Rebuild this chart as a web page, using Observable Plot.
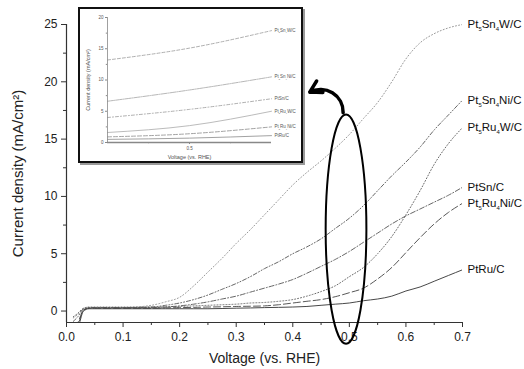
<!DOCTYPE html>
<html>
<head>
<meta charset="utf-8">
<script src="https://cdn.jsdelivr.net/npm/d3@7"></script>
<script src="https://cdn.jsdelivr.net/npm/@observablehq/plot@0.6"></script>
<style>
  html, body { margin: 0; padding: 0; background: #fff; }
  #wrap { position: relative; width: 524px; height: 369px; overflow: hidden; font-family: Arial, "Liberation Sans", sans-serif; }
  #wrap svg, #wrap svg text { font-family: Arial, "Liberation Sans", sans-serif !important; }
  #main { position: absolute; left: 0; top: 0; }
  #inset { position: absolute; left: 78px; top: 7px; width: 221px; height: 152px; border: 2px solid #111; box-shadow: 2px 2px 0 #9a9a9a; background: #fff; }
  #inset svg { display: block; }
</style>
</head>
<body>
<div id="wrap"><div id="main"></div><div id="inset"></div></div>
<script>
// ---------- main chart data ----------
const VOLTAGE = [0.012, 0.02, 0.03, 0.04, 0.05, 0.1, 0.15, 0.175, 0.2, 0.225, 0.25, 0.275, 0.3, 0.325, 0.35, 0.375, 0.4, 0.425, 0.45, 0.475, 0.5, 0.525, 0.55, 0.575, 0.6, 0.625, 0.65, 0.675, 0.7];
const PT5SN4W = [-0.6,-0.3,0.2,0.3,0.3,0.3,0.5,0.8,1.2,2.2,3.4,4.6,5.9,7.1,8.4,9.7,11.0,12.1,13.1,14.2,15.4,16.8,18.2,20.0,22.0,23.4,24.2,24.7,25.0];
const PT5SN4NI = [-0.9,-0.5,0.2,0.3,0.3,0.3,0.35,0.5,0.7,1.0,1.4,1.9,2.4,3.0,3.7,4.3,5.0,5.6,6.3,7.2,8.1,9.2,10.5,11.8,13.0,14.3,15.8,17.1,18.4];
const PTSN     = [-1.5,-1.2,0.1,0.25,0.3,0.3,0.3,0.35,0.45,0.6,0.8,1.05,1.3,1.65,2.0,2.35,2.75,3.3,3.9,4.5,5.2,6.0,6.8,7.6,8.3,8.9,9.5,10.1,10.8];
const PT5RU4W  = [-0.5,-0.2,0.25,0.35,0.35,0.35,0.35,0.38,0.4,0.45,0.5,0.55,0.6,0.7,0.75,0.85,1.0,1.3,1.7,2.2,3.0,3.8,5.0,6.5,8.4,10.5,12.8,14.6,16.0];
const PT5RU4NI = [-1.3,-1.0,0.1,0.25,0.25,0.25,0.25,0.28,0.3,0.32,0.35,0.37,0.4,0.42,0.45,0.55,0.7,0.85,1.0,1.25,1.6,2.0,2.8,3.8,5.1,6.4,7.6,8.6,9.4];
const PTRU     = [-1.6,-1.4,0.0,0.2,0.2,0.2,0.2,0.2,0.2,0.2,0.2,0.22,0.25,0.27,0.3,0.32,0.35,0.4,0.5,0.6,0.7,0.9,1.05,1.3,1.75,2.1,2.6,3.1,3.6];

const NAMES = ["Pt\u2085Sn\u2084W/C", "Pt\u2085Sn\u2084Ni/C", "Pt\u2085Ru\u2084W/C", "PtSn/C", "Pt\u2085Ru\u2084Ni/C", "PtRu/C"];
const X_TICKS = [0, 0.1, 0.2, 0.3, 0.4, 0.5, 0.6, 0.7];
const X_MINOR = [0.05, 0.15, 0.25, 0.35, 0.45, 0.55, 0.65];
const Y_TICKS = [0, 5, 10, 15, 20, 25];
const Y_MINOR = [2.5, 7.5, 12.5, 17.5, 22.5];
const X_TITLE = "Voltage (vs. RHE)";
const Y_TITLE = "Current density (mA/cm\u00B2)";

// ---------- inset data ----------
const INSET_V = [0.4, 0.5, 0.6];
const I_PT5SN4W  = [13.2, 15.1, 17.9];
const I_PT5SN4NI = [6.6, 8.4, 10.5];
const I_PTSN     = [4.0, 5.3, 7.0];
const I_PT5RU4W  = [1.6, 2.7, 5.0];
const I_PT5RU4NI = [0.9, 1.4, 2.5];
const I_PTRU     = [0.5, 0.7, 1.1];
const INSET_Y_TICKS = [0, 5, 10, 15, 20];
const INSET_Y_MINOR = [2.5, 7.5, 12.5, 17.5];
const INSET_X_TICKS = [0.5];
const INSET_X_MINOR = [0.45, 0.55];

// annotation anchors (data coordinates)
const ARROW = [{x1: 0.489, y1: 17.3, x2: 0.43, y2: 19.1}];
const ELLIPSE = {cx: 0.495, cy: 7.1, hx: 0.036, hy: 10.0};

const styles = [
  {vals: PT5SN4W,  stroke: "#8c8c8c", dash: "1,2.2", w: 0.9},
  {vals: PT5SN4NI, stroke: "#555",    dash: "4,2,1,2,1,2", w: 0.9},
  {vals: PT5RU4W,  stroke: "#6a6a6a", dash: "1,2", w: 1},
  {vals: PTSN,     stroke: "#555",    dash: "5,2,1,2", w: 0.9},
  {vals: PT5RU4NI, stroke: "#444",    dash: "7,3", w: 0.9},
  {vals: PTRU,     stroke: "#333",    dash: null, w: 0.9}
];
const series = styles.map((s, k) => ({
  name: NAMES[k], ...s,
  data: VOLTAGE.map((v, i) => ({v, j: s.vals[i]}))
}));
const ends = series.map(s => ({name: s.name, v: VOLTAGE[VOLTAGE.length - 1], j: s.vals[s.vals.length - 1]}));

const font = "Arial, 'Liberation Sans', sans-serif";

// turn unicode subscript digits into real smaller, lowered tspans
function subscriptify(svg, shift) {
  d3.select(svg).selectAll("text").each(function() {
    const t = this.textContent;
    if (!/[\u2080-\u2089]/.test(t)) return;
    const el = d3.select(this);
    el.text(null);
    const parts = t.split(/([\u2080-\u2089]+)/).filter(p => p.length);
    let low = false;
    for (const p of parts) {
      const isSub = /[\u2080-\u2089]/.test(p);
      const ts = el.append("tspan");
      if (isSub) {
        ts.text(p.replace(/[\u2080-\u2089]/g, c => String.fromCharCode(c.charCodeAt(0) - 0x2080 + 48)))
          .attr("font-size", "52%").attr("dy", shift);
        low = true;
      } else {
        ts.text(p);
        if (low) ts.attr("dy", -shift);
        low = false;
      }
    }
  });
}

const main = Plot.plot({
  width: 524, height: 369,
  marginLeft: 66, marginRight: 62, marginTop: 24, marginBottom: 47,
  style: {fontFamily: font, background: "transparent", color: "#222"},
  x: {domain: [0, 0.7], label: null},
  y: {domain: [-1, 25], label: null},
  marks: [
    ...series.map(s => Plot.line(s.data, {x: "v", y: "j", stroke: s.stroke, strokeWidth: s.w, strokeDasharray: s.dash, curve: "monotone-x", clip: true})),
    Plot.ruleX([0], {y1: -1, y2: 25, stroke: "#333", strokeWidth: 1.2}),
    Plot.ruleY([-1], {x1: 0, x2: 0.7, stroke: "#333", strokeWidth: 1.2}),
    Plot.axisX({ticks: X_TICKS, tickSize: 5, tickPadding: 5, tickFormat: d3.format(".1f"), fontSize: 12, label: null, stroke: "#333"}),
    Plot.axisX({ticks: X_MINOR, tickSize: 3, tickFormat: () => "", label: null, stroke: "#333"}),
    Plot.axisY({ticks: Y_TICKS, tickSize: 5, tickPadding: 4, fontSize: 12, label: null, stroke: "#333"}),
    Plot.axisY({ticks: Y_MINOR, tickSize: 3, tickFormat: () => "", label: null, stroke: "#333"}),
    Plot.text(ends, {x: "v", y: "j", text: "name", textAnchor: "start", dx: 5, fontSize: 11.5, fill: "#111"}),
    Plot.text([X_TITLE], {text: d => d, frameAnchor: "bottom", textAnchor: "middle", lineAnchor: "middle", dy: 36, fontSize: 14, fill: "#222"}),
    Plot.text([Y_TITLE], {text: d => d, frameAnchor: "left", textAnchor: "middle", lineAnchor: "middle", dx: -48, rotate: -90, fontSize: 15, fill: "#222"}),
    Plot.arrow(ARROW, {x1: "x1", y1: "y1", x2: "x2", y2: "y2", bend: -60, stroke: "#000", strokeWidth: 3.5, headLength: 9})
  ]
});
document.getElementById("main").appendChild(main);
subscriptify(main, 3);

// ellipse annotation positioned through the chart's scales
const xs = main.scale("x"), ys = main.scale("y");
const cx = xs.apply(ELLIPSE.cx), cy = ys.apply(ELLIPSE.cy);
const rx = xs.apply(ELLIPSE.cx + ELLIPSE.hx) - cx;
const ry = ys.apply(ELLIPSE.cy - ELLIPSE.hy) - cy;
d3.select(main).append("ellipse")
  .attr("cx", cx).attr("cy", cy).attr("rx", rx).attr("ry", ry)
  .attr("fill", "none").attr("stroke", "#000").attr("stroke-width", 2);

// ---------- inset ----------
const istyles = [
  {vals: I_PT5SN4W,  stroke: "#9a9a9a", dash: "3,2"},
  {vals: I_PT5SN4NI, stroke: "#a5a5a5", dash: "6,1,1,1"},
  {vals: I_PTSN,     stroke: "#9a9a9a", dash: "3,2,1,2"},
  {vals: I_PT5RU4W,  stroke: "#aaaaaa", dash: null},
  {vals: I_PT5RU4NI, stroke: "#8a8a8a", dash: "4,2"},
  {vals: I_PTRU,     stroke: "#8a8a8a", dash: null}
];
const INAMES = [NAMES[0], NAMES[1], NAMES[3], NAMES[2], NAMES[4], NAMES[5]];
const iseries = istyles.map((s, k) => ({name: INAMES[k], ...s, data: INSET_V.map((v, i) => ({v, j: s.vals[i]}))}));
const iends = iseries.map(s => ({name: s.name, v: INSET_V[INSET_V.length - 1], j: s.vals[s.vals.length - 1]}));

const inset = Plot.plot({
  width: 221, height: 152,
  marginLeft: 27, marginRight: 30, marginTop: 8, marginBottom: 19,
  style: {fontFamily: font, background: "#fff", color: "#555"},
  x: {domain: [0.4, 0.6], label: null},
  y: {domain: [0, 20], label: null},
  marks: [
    ...iseries.map(s => Plot.line(s.data, {x: "v", y: "j", stroke: s.stroke, strokeWidth: 0.8, strokeDasharray: s.dash, curve: "monotone-x"})),
    Plot.ruleX([0.4], {y1: 0, y2: 20, stroke: "#888", strokeWidth: 0.8}),
    Plot.ruleY([0], {x1: 0.4, x2: 0.6, stroke: "#888", strokeWidth: 1.4}),
    Plot.axisX({ticks: INSET_X_TICKS, tickSize: 2, tickPadding: 2, tickFormat: d3.format(".1f"), fontSize: 4.5, label: null, stroke: "#888"}),
    Plot.axisX({ticks: INSET_X_MINOR, tickSize: 1.2, tickFormat: () => "", label: null, stroke: "#888"}),
    Plot.axisY({ticks: INSET_Y_TICKS, tickSize: 2, tickPadding: 2, fontSize: 4.5, label: null, stroke: "#888"}),
    Plot.axisY({ticks: INSET_Y_MINOR, tickSize: 1.2, tickFormat: () => "", label: null, stroke: "#888"}),
    Plot.text(iends, {x: "v", y: "j", text: "name", textAnchor: "start", dx: 3, fontSize: 4.5, fill: "#555"}),
    Plot.text([X_TITLE], {text: d => d, frameAnchor: "bottom", textAnchor: "middle", lineAnchor: "middle", dy: 15, fontSize: 5.5, fill: "#555"}),
    Plot.text([Y_TITLE], {text: d => d, frameAnchor: "left", textAnchor: "middle", lineAnchor: "middle", dx: -19, rotate: -90, fontSize: 5.5, fill: "#555"})
  ]
});
document.getElementById("inset").appendChild(inset);
subscriptify(inset, 1.2);
</script>
</body>
</html>
